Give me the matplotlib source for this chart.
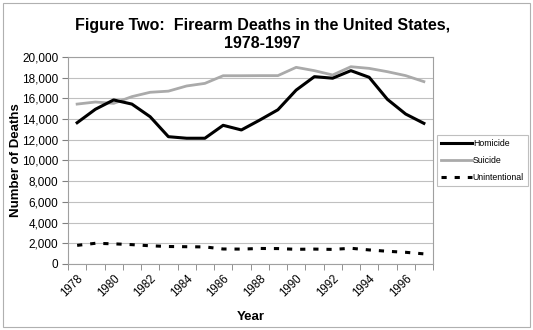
import matplotlib
matplotlib.use("Agg")
import matplotlib.pyplot as plt
from matplotlib.patches import Rectangle
import numpy as np

plt.rcParams['font.family'] = ['Liberation Sans', 'DejaVu Sans']

years = list(range(1978, 1998))
homicide = [13650, 14950, 15850, 15450, 14230, 12300, 12150, 12150, 13400, 12950,
            13900, 14900, 16800, 18100, 17950, 18680, 18040, 15910, 14490, 13590]
suicide = [15450, 15650, 15520, 16170, 16590, 16700, 17200, 17450, 18190, 18190,
           18200, 18200, 19000, 18680, 18260, 19060, 18900, 18580, 18200, 17620]
unintentional = [1800, 2000, 1950, 1870, 1760, 1690, 1670, 1650, 1450, 1440,
                 1500, 1490, 1420, 1440, 1410, 1520, 1360, 1230, 1130, 980]
yticks = list(range(0, 20001, 2000))

fig = plt.figure(figsize=(5.33, 3.30), dpi=100)
fig.patch.set_facecolor('white')
# outer chart frame
fig.add_artist(Rectangle((0.006, 0.01), 0.988, 0.98, transform=fig.transFigure,
                         fill=False, edgecolor='#b0b0b0', linewidth=0.8))

ax = fig.add_axes([0.1276, 0.2, 0.6848, 0.6273])
x = np.arange(len(years))

ax.plot(x, homicide, color='black', lw=2.2, label='Homicide', zorder=3)
ax.plot(x, suicide, color='#aaaaaa', lw=2.0, label='Suicide', zorder=2)
ax.plot(x, unintentional, color='black', lw=2.2, dashes=(1.7, 2.6),
        label='Unintentional', zorder=3)

ax.set_xlim(-0.5, len(years) - 0.5)
ax.set_ylim(0, 20000)
ax.set_yticks(yticks)
ax.set_yticklabels([f"{v:,}" for v in yticks], fontsize=8.5)
ax.yaxis.grid(True, color='#c0c0c0', lw=0.8)
ax.set_axisbelow(True)

ax.set_xticks(x[::2])
ax.set_xticklabels([str(y) for y in years[::2]], rotation=45, ha='right',
                   rotation_mode='anchor', fontsize=8.3)
ax.tick_params(axis='x', which='major', length=0, pad=6)
ax.set_xticks(np.arange(-0.5, len(years), 1.0), minor=True)
ax.tick_params(axis='x', which='minor', length=4, color='#808080')
ax.tick_params(axis='y', length=4, color='#808080', pad=3)

for s in ax.spines.values():
    s.set_color('#a0a0a0')
    s.set_linewidth(0.8)

ax.set_ylabel('Number of Deaths', fontsize=9.5, fontweight='bold', labelpad=0)
ax.set_xlabel('Year', fontsize=9.5, fontweight='bold', labelpad=9)

fig.text(0.492, 0.895, 'Figure Two:  Firearm Deaths in the United States,\n1978-1997',
         ha='center', va='center', fontsize=11.5, fontweight='bold', linespacing=1.25)

leg = ax.legend(loc='center left', bbox_to_anchor=(1.0, 0.5), fontsize=6.3,
                frameon=True, fancybox=False, edgecolor='#b0b0b0',
                handlelength=3.5, handletextpad=0.1, borderpad=0.5,
                labelspacing=0.9, borderaxespad=0.45)
leg.get_frame().set_linewidth(0.8)

fig.savefig('out.png', dpi=100, facecolor='white')
